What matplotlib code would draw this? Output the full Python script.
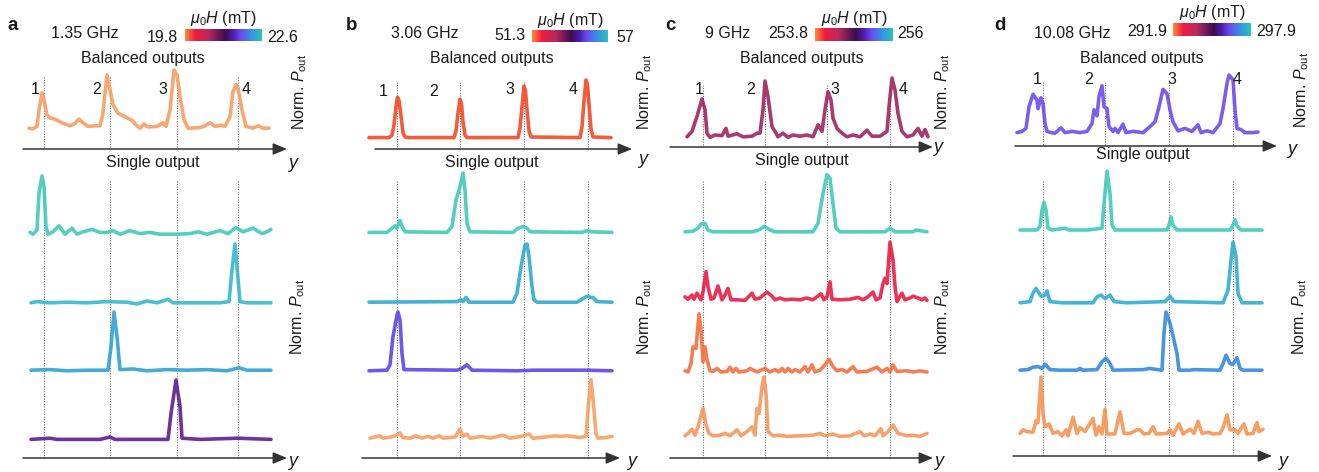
import matplotlib
matplotlib.use('Agg')
import matplotlib.pyplot as plt
import numpy as np
from matplotlib.colors import LinearSegmentedColormap, Normalize
from matplotlib.cm import ScalarMappable

plt.rcParams['font.family'] = ['Liberation Sans', 'DejaVu Sans']
plt.rcParams['mathtext.fontset'] = 'custom'
plt.rcParams['mathtext.rm'] = 'Liberation Sans'
plt.rcParams['mathtext.it'] = 'Liberation Sans:italic'

# ---- data: (position along y, normalised output power) ----
freqs = ['1.35 GHz', '3.06 GHz', '9 GHz', '10.08 GHz']
field_lo = [19.8, 51.3, 253.8, 291.9]
field_hi = [22.6, 57, 256, 297.9]

a_outputs = [15, 81, 148, 209]
b_outputs = [28, 91, 155, 219]
c_outputs = [18, 80, 142, 205]
d_outputs = [26, 88, 152, 216]

a_bal = [(0, 0.03), (4, 0.02), (8, 0.06), (10, 0.33), (13, 0.62), (15, 0.50), (18, 0.25), (21, 0.20), (26, 0.18),
         (33, 0.12), (41, 0.07), (46, 0.11), (50, 0.18), (54, 0.12), (59, 0.06), (66, 0.07), (71, 0.07), (74, 0.28),
         (78, 0.92), (81, 0.67), (84, 0.42), (89, 0.28), (96, 0.22), (103, 0.16), (108, 0.07), (111, 0.03),
         (115, 0.10), (119, 0.05), (128, 0.06), (134, 0.12), (137, 0.06), (141, 0.33), (145, 1.00), (148, 0.92),
         (151, 0.56), (155, 0.17), (159, 0.03), (171, 0.04), (176, 0.07), (181, 0.12), (186, 0.06), (192, 0.08),
         (196, 0.06), (201, 0.22), (204, 0.64), (207, 0.76), (209, 0.70), (213, 0.33), (217, 0.06), (224, 0.03),
         (229, 0.07), (234, 0.03), (240, 0.03)]
a_out1 = [(1, 0.06), (4, 0.03), (8, 0.10), (10, 0.71), (13, 1.0), (15, 0.82), (17, 0.16), (19, 0.03), (24, 0.07),
          (30, 0.17), (36, 0.03), (43, 0.13), (48, 0.03), (54, 0.07), (63, 0.11), (71, 0.06), (78, 0.06), (84, 0.09),
          (91, 0.03), (101, 0.09), (111, 0.04), (121, 0.06), (131, 0.03), (148, 0.03), (161, 0.04), (169, 0.07),
          (178, 0.03), (191, 0.09), (199, 0.04), (207, 0.14), (214, 0.07), (224, 0.13), (233, 0.04), (238, 0.07),
          (242, 0.11)]
a_out2 = [(2, 0.02), (8, 0.04), (21, 0.02), (38, 0.03), (58, 0.02), (78, 0.04), (98, 0.03), (108, 0.0), (118, 0.05),
          (128, 0.02), (139, 0.08), (144, 0.02), (158, 0.02), (178, 0.02), (191, 0.02), (200, 0.04), (203, 0.57),
          (206, 1.0), (208, 0.62), (211, 0.04), (218, 0.02), (231, 0.02), (242, 0.02)]
a_out3 = [(2, 0.03), (21, 0.04), (38, 0.02), (58, 0.03), (79, 0.03), (82, 0.42), (85, 1.0), (88, 0.59), (91, 0.04),
          (104, 0.05), (118, 0.02), (138, 0.04), (158, 0.03), (178, 0.04), (198, 0.02), (210, 0.07), (218, 0.03),
          (242, 0.03)]
a_out4 = [(2, 0.01), (21, 0.03), (28, 0.01), (71, 0.01), (81, 0.05), (86, 0.01), (139, 0.01), (142, 0.44),
          (147, 1.0), (151, 0.56), (153, 0.03), (171, 0.01), (209, 0.03), (242, 0.01)]

b_bal = [(0, 0.04), (20, 0.04), (23, 0.08), (25, 0.25), (27, 0.56), (28.5, 0.71), (30, 0.66), (32, 0.4), (34, 0.12),
         (36, 0.05), (40, 0.04), (85, 0.04), (87, 0.15), (89, 0.45), (91, 0.68), (92.5, 0.6), (94, 0.3), (96, 0.08),
         (98, 0.04), (149, 0.04), (151, 0.2), (153, 0.55), (155, 0.9), (156.5, 0.82), (158, 0.5), (160, 0.15),
         (162, 0.05), (211, 0.04), (213, 0.22), (215, 0.65), (217, 1.0), (218.5, 0.9), (220, 0.6), (222, 0.18),
         (224, 0.05), (242, 0.04)]
b_out1 = [(0, 0.06), (18, 0.06), (23, 0.13), (26, 0.17), (28, 0.13), (31, 0.26), (33, 0.16), (36, 0.07), (78, 0.06),
          (83, 0.16), (87, 0.6), (91, 0.82), (94, 1.05), (96, 0.77), (98, 0.21), (101, 0.07), (144, 0.06),
          (149, 0.13), (154, 0.16), (158, 0.13), (161, 0.07), (213, 0.06), (218, 0.09), (223, 0.07), (243, 0.06)]
b_out2 = [(0, 0.03), (88, 0.04), (92, 0.07), (94, 0.04), (97, 0.11), (100, 0.03), (144, 0.03), (148, 0.18),
          (152, 0.62), (156, 0.98), (158, 1.0), (160, 0.79), (163, 0.29), (165, 0.07), (168, 0.03), (208, 0.03),
          (213, 0.08), (218, 0.13), (222, 0.11), (224, 0.11), (228, 0.04), (243, 0.03)]
b_out3 = [(0, 0.02), (18, 0.03), (21, 0.12), (24, 0.59), (28, 0.95), (29, 1.0), (31, 0.87), (33, 0.31), (35, 0.04),
          (88, 0.03), (93, 0.06), (98, 0.12), (103, 0.03), (148, 0.02), (165, 0.03), (218, 0.03), (243, 0.02)]
b_out4 = [(1, 0.03), (6, 0.05), (11, 0.07), (14, 0.03), (22, 0.05), (28, 0.08), (31, 0.12), (34, 0.04), (41, 0.03),
          (47, 0.07), (53, 0.03), (59, 0.06), (64, 0.03), (70, 0.07), (74, 0.03), (86, 0.05), (91, 0.18), (94, 0.06),
          (98, 0.1), (101, 0.03), (113, 0.06), (121, 0.03), (134, 0.08), (141, 0.03), (152, 0.06), (160, 0.1),
          (164, 0.03), (177, 0.05), (186, 0.07), (191, 0.06), (198, 0.07), (211, 0.04), (217, 0.06), (219.5, 0.6),
          (222, 1.0), (224.5, 0.6), (227, 0.1), (229, 0.03), (236, 0.04), (243, 0.06)]

c_bal = [(2, 0.02), (7, 0.11), (12, 0.36), (17, 0.65), (20, 0.47), (22, 0.08), (25, 0.01), (30, 0.05), (37, 0.04),
         (41, 0.16), (43, 0.03), (52, 0.07), (58, 0.02), (67, 0.03), (72, 0.08), (75, 0.08), (78, 0.47), (80, 0.95),
         (83, 0.69), (87, 0.19), (90, 0.11), (93, 0.02), (98, 0.08), (103, 0.01), (108, 0.05), (115, 0.03),
         (122, 0.05), (128, 0.02), (133, 0.22), (137, 0.11), (140, 0.47), (143, 0.77), (146, 0.63), (148, 0.33),
         (152, 0.16), (157, 0.08), (162, 0.02), (168, 0.05), (175, 0.02), (182, 0.13), (187, 0.03), (195, 0.03),
         (202, 0.11), (204, 0.52), (207, 1.0), (210, 0.8), (213, 0.41), (217, 0.11), (222, 0.02), (228, 0.05),
         (233, 0.16), (237, 0.03), (240, 0.14), (243, 0.02)]
c_out1 = [(0, 0.07), (8, 0.08), (13, 0.13), (16, 0.2), (20, 0.21), (23, 0.1), (28, 0.07), (68, 0.07), (75, 0.11),
          (79, 0.16), (85, 0.1), (90, 0.07), (128, 0.07), (133, 0.21), (138, 0.71), (142, 1.02), (145, 0.96),
          (148, 0.54), (151, 0.13), (155, 0.07), (200, 0.07), (205, 0.13), (210, 0.07), (228, 0.07), (231, 0.1),
          (242, 0.07)]
c_out2 = [(0, 0.12), (3, 0.08), (7, 0.15), (9, 0.08), (12, 0.18), (16, 0.07), (18, 0.2), (21, 0.54), (23, 0.29),
          (26, 0.08), (29, 0.1), (33, 0.3), (37, 0.07), (40, 0.15), (43, 0.26), (46, 0.07), (52, 0.07), (60, 0.06),
          (67, 0.18), (70, 0.08), (75, 0.1), (82, 0.2), (87, 0.13), (90, 0.07), (95, 0.1), (100, 0.07), (107, 0.08),
          (115, 0.07), (122, 0.1), (128, 0.07), (136, 0.17), (139, 0.07), (142, 0.12), (145, 0.37), (147, 0.08),
          (155, 0.07), (165, 0.08), (173, 0.11), (178, 0.07), (183, 0.12), (188, 0.2), (191, 0.07), (195, 0.1),
          (198, 0.34), (200, 0.43), (202, 0.34), (205, 1.03), (208, 0.73), (210, 0.29), (212, 0.04), (217, 0.18),
          (220, 0.07), (225, 0.1), (228, 0.13), (233, 0.1), (237, 0.07), (240, 0.1), (242, 0.06)]
c_out3 = [(0, 0.02), (3, 0.0), (6, 0.14), (8, 0.42), (11, 0.39), (12, 0.59), (14, 0.97), (16, 0.7), (18, 0.17),
          (20, 0.42), (22, 0.2), (25, 0.02), (28, 0.01), (32, 0.06), (36, 0.0), (42, 0.01), (45, 0.08), (48, 0.0),
          (51, 0.06), (54, 0.0), (62, 0.02), (65, 0.06), (72, 0.0), (80, 0.06), (85, 0.0), (90, 0.04), (94, 0.0),
          (97, 0.06), (100, 0.0), (103, 0.06), (107, 0.0), (110, 0.04), (115, 0.0), (120, 0.09), (123, 0.0),
          (127, 0.12), (130, 0.0), (135, 0.03), (140, 0.12), (144, 0.21), (148, 0.09), (152, 0.02), (157, 0.04),
          (162, 0.0), (168, 0.09), (172, 0.0), (182, 0.01), (192, 0.08), (197, 0.0), (202, 0.06), (205, 0.0),
          (208, 0.12), (212, 0.01), (222, 0.02), (228, 0.0), (235, 0.02), (242, 0.0)]
c_out4 = [(0, 0.07), (3, 0.11), (7, 0.18), (10, 0.08), (13, 0.22), (18, 0.53), (21, 0.25), (24, 0.11), (28, 0.07),
          (35, 0.08), (40, 0.11), (45, 0.07), (52, 0.17), (56, 0.07), (62, 0.14), (67, 0.22), (70, 0.08), (72, 0.53),
          (74, 0.44), (77, 0.89), (79, 1.05), (81, 0.78), (83, 0.14), (88, 0.07), (95, 0.08), (102, 0.06),
          (115, 0.07), (128, 0.08), (135, 0.11), (140, 0.07), (148, 0.1), (155, 0.06), (165, 0.07), (175, 0.14),
          (179, 0.07), (185, 0.1), (190, 0.07), (196, 0.19), (198, 0.07), (203, 0.14), (208, 0.25), (213, 0.11),
          (222, 0.07), (228, 0.08), (235, 0.06), (242, 0.11)]

d_bal = [(0, 0.04), (5, 0.06), (9, 0.11), (12, 0.47), (16, 0.68), (20, 0.58), (21, 0.44), (24, 0.62), (26, 0.53),
         (28, 0.19), (30, 0.06), (34, 0.04), (38, 0.03), (44, 0.12), (48, 0.04), (55, 0.06), (63, 0.04), (70, 0.06),
         (75, 0.19), (77, 0.42), (80, 0.32), (82, 0.64), (85, 0.82), (87, 0.47), (90, 0.44), (92, 0.14), (96, 0.06),
         (98, 0.11), (101, 0.04), (106, 0.18), (109, 0.04), (116, 0.06), (126, 0.04), (133, 0.14), (138, 0.22),
         (142, 0.47), (146, 0.76), (150, 0.69), (153, 0.42), (156, 0.22), (161, 0.07), (168, 0.11), (175, 0.06),
         (181, 0.17), (184, 0.04), (190, 0.07), (196, 0.04), (203, 0.19), (206, 0.44), (210, 0.86), (212, 1.0),
         (216, 0.92), (218, 0.42), (220, 0.11), (224, 0.09), (228, 0.04), (236, 0.04), (241, 0.05)]
d_out1 = [(3, 0.1), (20, 0.1), (23, 0.16), (25, 0.43), (27, 0.56), (29, 0.43), (31, 0.13), (35, 0.1), (48, 0.13),
          (52, 0.1), (71, 0.1), (85, 0.13), (87, 0.54), (90, 1.08), (93, 0.71), (95, 0.18), (98, 0.1), (150, 0.1),
          (152, 0.18), (154, 0.32), (156, 0.18), (160, 0.1), (213, 0.1), (216, 0.18), (218, 0.27), (220, 0.17),
          (224, 0.1), (245, 0.1)]
d_out2 = [(3, 0.02), (13, 0.04), (16, 0.18), (19, 0.26), (24, 0.13), (28, 0.15), (30, 0.22), (33, 0.04), (45, 0.02),
          (76, 0.02), (80, 0.12), (84, 0.15), (88, 0.09), (93, 0.15), (97, 0.04), (110, 0.02), (148, 0.04),
          (153, 0.13), (157, 0.04), (206, 0.02), (211, 0.23), (214, 0.73), (216, 1.03), (219, 0.79), (221, 0.18),
          (225, 0.02), (245, 0.02)]
d_out3 = [(3, 0.03), (11, 0.04), (16, 0.08), (21, 0.09), (25, 0.06), (28, 0.13), (33, 0.04), (43, 0.03), (60, 0.03),
          (63, 0.06), (66, 0.03), (80, 0.04), (85, 0.17), (89, 0.23), (93, 0.14), (96, 0.03), (127, 0.04),
          (132, 0.06), (145, 0.03), (147, 0.65), (149, 1.0), (153, 0.81), (157, 0.53), (160, 0.31), (162, 0.03),
          (173, 0.03), (177, 0.04), (203, 0.03), (206, 0.14), (209, 0.28), (213, 0.14), (216, 0.13), (220, 0.24),
          (223, 0.06), (226, 0.03), (245, 0.03)]
d_out4 = [(3, 0.11), (6, 0.17), (10, 0.14), (16, 0.13), (19, 0.32), (21, 0.29), (24, 1.05), (26, 0.44), (28, 0.22),
          (32, 0.27), (36, 0.11), (41, 0.14), (45, 0.07), (49, 0.17), (51, 0.07), (56, 0.38), (60, 0.11), (63, 0.21),
          (68, 0.14), (76, 0.36), (79, 0.08), (82, 0.22), (85, 0.1), (88, 0.51), (90, 0.1), (98, 0.1), (103, 0.47),
          (107, 0.11), (113, 0.11), (120, 0.17), (123, 0.17), (127, 0.1), (132, 0.11), (136, 0.22), (139, 0.1),
          (150, 0.11), (153, 0.17), (156, 0.08), (162, 0.27), (166, 0.1), (173, 0.18), (177, 0.11), (181, 0.31),
          (185, 0.11), (191, 0.13), (196, 0.1), (203, 0.11), (206, 0.2), (210, 0.42), (213, 0.17), (218, 0.17),
          (221, 0.11), (227, 0.27), (230, 0.1), (236, 0.11), (240, 0.29), (242, 0.14), (246, 0.18)]

bal_traces = [a_bal, b_bal, c_bal, d_bal]
single_traces = [[a_out1, a_out2, a_out3, a_out4], [b_out1, b_out2, b_out3, b_out4],
                 [c_out1, c_out2, c_out3, c_out4], [d_out1, d_out2, d_out3, d_out4]]
outputs = [a_outputs, b_outputs, c_outputs, d_outputs]

bal_colors = ['#f79c5e', '#f2441e', '#9c1f5c', '#6a48ec']
single_colors = [['#3cc8b6', '#31b6ca', '#2c9ed4', '#5b168e'],
                 ['#3cc8b8', '#2ca6cc', '#5c3ee8', '#f59e5e'],
                 ['#3cc8b8', '#e8173f', '#f36c3a', '#f5955a'],
                 ['#3cc8b8', '#2aaccc', '#2e86dc', '#f5914e']]

# ---- layout (pixels of the 1319x472 canvas) ----
W, H = 1319, 472
SCALE = 60
BOT_ZERO = [236, 304, 372, 440]
layout = [
    dict(x0=0, x1=330, org=29, top_zero=130, letter='a', let_xy=(13, 25), freq_xy=(85, 33), lo_xy=(162, 37),
         hi_xy=(283, 37), cbar=(185, 262, 29, 41), mu_xy=(223, 18), bal_xy=(143, 59), single_xy=(153, 162),
         nums=[(35, 89), (97, 89), (163, 89), (246, 89)], norm_top=(300, 92), norm_bot=(298, 317),
         ytop=(293, 163), ybot=(293, 462), top_arrow=(23, 287, 149), bot_arrow=(23, 287, 458), dot_top=77),
    dict(x0=330, x1=660, org=369, top_zero=140, letter='b', let_xy=(352, 25), freq_xy=(425, 33), lo_xy=(510, 36),
         hi_xy=(625, 37), cbar=(532, 608, 30, 42), mu_xy=(570, 21), bal_xy=(492, 59), single_xy=(492, 162),
         nums=[(383, 91), (434, 91), (510, 90), (573, 89)], norm_top=(645, 92), norm_bot=(645, 317),
         ytop=(643, 160), ybot=(632, 462), top_arrow=(375, 632, 149), bot_arrow=(362, 620, 458), dot_top=82),
    dict(x0=660, x1=990, org=685, top_zero=138, letter='c', let_xy=(670, 25), freq_xy=(728, 33), lo_xy=(788, 33),
         hi_xy=(910, 33), cbar=(815, 893, 28, 41), mu_xy=(854, 19), bal_xy=(802, 59), single_xy=(802, 160),
         nums=[(699, 89), (751, 89), (835, 89), (903, 89)], norm_top=(943, 92), norm_bot=(943, 317),
         ytop=(938, 147), ybot=(939, 462), top_arrow=(670, 933, 147), bot_arrow=(670, 933, 458), dot_top=85),
    dict(x0=990, x1=1319, org=1017, top_zero=135, letter='d', let_xy=(1000, 25), freq_xy=(1072, 33),
         lo_xy=(1147, 32), hi_xy=(1276, 32), cbar=(1173, 1251, 23, 36), mu_xy=(1212, 13), bal_xy=(1142, 59),
         single_xy=(1143, 155), nums=[(1037, 80), (1089, 80), (1172, 80), (1237, 80)], norm_top=(1302, 90),
         norm_bot=(1300, 317), ytop=(1292, 150), ybot=(1283, 462), top_arrow=(1015, 1277, 146),
         bot_arrow=(1013, 1272, 456), dot_top=82),
]

cmap = LinearSegmentedColormap.from_list('field', [(0, '#ff8a3a'), (0.13, '#f01a3e'), (0.3, '#b82a5c'),
                                                   (0.52, '#3c0c50'), (0.63, '#4e1eae'), (0.72, '#6a48ee'),
                                                   (0.85, '#3a8ce4'), (1, '#26c4bc')])

fig = plt.figure(figsize=(W / 100, H / 100), dpi=100)


def fx(px):
    return px / W


def fy(py):
    return 1 - py / H


def ftext(xy, s, **kw):
    kw.setdefault('fontsize', 11.5)
    kw.setdefault('ha', 'center')
    kw.setdefault('va', 'center')
    fig.text(fx(xy[0]), fy(xy[1]), s, color='#1a1a1a', **kw)


LW = 2.6
for i, L in enumerate(layout):
    org = L['org']
    ax = fig.add_axes([fx(L['x0']), 0, (L['x1'] - L['x0']) / W, 1])
    ax.set_xlim(L['x0'] - org, L['x1'] - org)
    ax.set_ylim(H, 0)
    ax.axis('off')

    # dotted output markers
    for xo in outputs[i]:
        ax.plot([xo, xo], [L['dot_top'], L['top_arrow'][2]], color='#777777', lw=0.8, ls=(0, (1, 1.3)), zorder=1)
        ax.plot([xo, xo], [181, L['bot_arrow'][2]], color='#777777', lw=0.8, ls=(0, (1, 1.3)), zorder=1)

    # axis arrows
    for (xs, xe, ya) in [L['top_arrow'], L['bot_arrow']]:
        ax.annotate('', xy=(xe - org, ya), xytext=(xs - org, ya),
                    arrowprops=dict(arrowstyle='-|>,head_length=0.6,head_width=0.25', color='#333333',
                                    lw=1.1, mutation_scale=14, shrinkA=0, shrinkB=0))

    # balanced trace
    xb, pb = np.array(bal_traces[i]).T
    ax.plot(xb, L['top_zero'] - SCALE * pb, color=bal_colors[i], lw=LW, alpha=0.88,
            solid_joinstyle='round', solid_capstyle='round', zorder=3)

    # single-output traces
    for k, tr in enumerate(single_traces[i]):
        xs_, ps_ = np.array(tr).T
        ax.plot(xs_, BOT_ZERO[k] - SCALE * ps_, color=single_colors[i][k], lw=LW, alpha=0.88,
                solid_joinstyle='round', solid_capstyle='round', zorder=3)

    # colorbar
    cx0, cx1, cy0, cy1 = L['cbar']
    cax = fig.add_axes([fx(cx0), fy(cy1), (cx1 - cx0) / W, (cy1 - cy0) / H])
    cb = fig.colorbar(ScalarMappable(norm=Normalize(field_lo[i], field_hi[i]), cmap=cmap), cax=cax,
                      orientation='horizontal')
    cb.set_ticks([])
    cb.outline.set_visible(False)

    # texts
    ftext(L['let_xy'], L['letter'], fontsize=13.5, fontweight='bold')
    ftext(L['freq_xy'], freqs[i])
    ftext(L['lo_xy'], f'{field_lo[i]:g}')
    ftext(L['hi_xy'], f'{field_hi[i]:g}')
    ftext(L['mu_xy'], r'$\mu_\mathrm{0}H$ (mT)')
    ftext(L['bal_xy'], 'Balanced outputs')
    ftext(L['single_xy'], 'Single output')
    for n, xy in enumerate(L['nums']):
        ftext(xy, str(n + 1))
    ftext(L['norm_top'], r'Norm. $P_\mathrm{out}$', rotation=90)
    ftext(L['norm_bot'], r'Norm. $P_\mathrm{out}$', rotation=90)
    ftext(L['ytop'], 'y', fontsize=13, style='italic')
    ftext(L['ybot'], 'y', fontsize=13, style='italic')

fig.savefig('out.png', dpi=100, facecolor='white')
